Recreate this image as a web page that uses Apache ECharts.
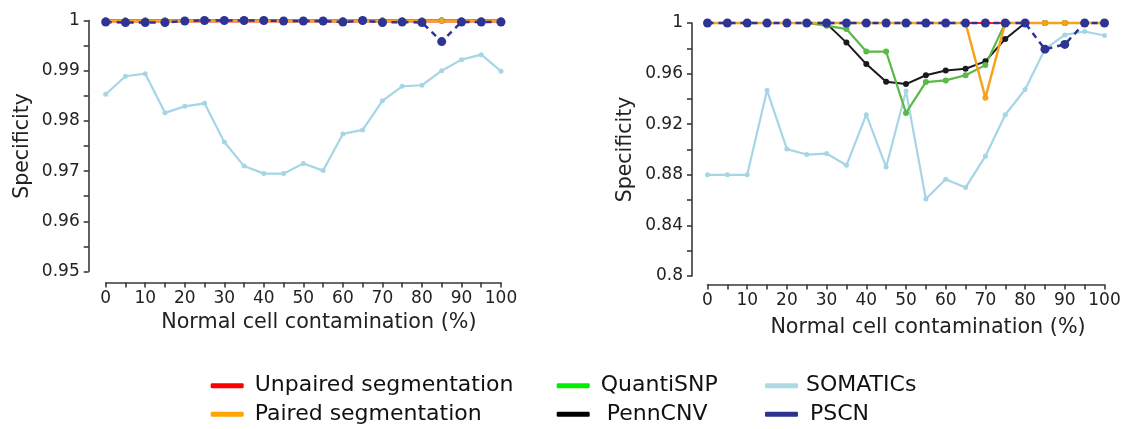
<!DOCTYPE html>
<html>
<head>
<meta charset="utf-8">
<script src="https://cdn.jsdelivr.net/npm/echarts@6/dist/echarts.min.js"></script>
<style>html,body{margin:0;padding:0;background:#fff}#c{width:1128px;height:429px}</style>
</head>
<body>
<div id="c"></div>
<script>
// x categories: normal cell contamination (%)
const contamination = [0,5,10,15,20,25,30,35,40,45,50,55,60,65,70,75,80,85,90,95,100];

// Left panel
const leftUnpaired = [0.9998,0.9998,0.9998,0.9998,0.9998,0.9998,0.9998,0.9998,0.9998,0.9998,0.9998,0.9998,0.9998,0.9998,0.9998,0.9998,0.9998,0.9998,0.9998,0.9998,0.9998];
const leftPaired   = [0.9999,0.9999,0.9999,0.9999,0.9999,0.9999,0.9999,0.9999,0.9999,0.9999,0.9999,0.9999,0.9999,0.9999,0.9999,0.9999,0.9999,0.9999,0.9999,0.9999,0.9999];
const leftQuanti   = [1,1,1,1,1,1,1,1,1,1,1,1,1,1,1,1,1,1,1,1,1];
const leftPenn     = [1,1,1,1,1,1,1,1,1,1,1,1,1,1,1,1,1,1,1,1,1];
const leftSomatics = [0.9853,0.9889,0.9894,0.9816,0.9829,0.9835,0.9758,0.9710,0.9695,0.9695,0.9715,0.9701,0.9774,0.9782,0.9840,0.9869,0.9871,0.9900,0.9922,0.9932,0.9899];
const leftPSCN     = [0.9997,0.9996,0.9996,0.9996,0.9999,1.0,1.0,1.0,1.0,0.9999,0.9999,0.9999,0.9997,1.0,0.9996,0.9997,0.9996,0.9958,0.9997,0.9997,0.9997];

// Right panel
const rightUnpaired = [1,1,1,1,1,1,1,1,1,1,1,1,1,1,1,1,1,1,1,1,1];
const rightPaired   = [1,1,1,1,1,1,1,1,1,1,1,1,1,1,0.9409,1,1,1,1,1,1];
const rightQuanti   = [1,1,1,1,1,1,0.9979,0.9952,0.9774,0.9774,0.9289,0.9533,0.9546,0.9587,0.9667,1,1,1,1,1,1];
const rightPenn     = [1,1,1,1,1,1,0.9995,0.9845,0.9675,0.9536,0.9517,0.9587,0.9624,0.9638,0.9697,0.9874,1,1,1,1,1];
const rightSomatics = [0.880,0.880,0.880,0.9468,0.9003,0.8960,0.8968,0.8875,0.9275,0.8861,0.9463,0.8608,0.8765,0.8699,0.8947,0.9275,0.9474,0.9793,0.9906,0.9933,0.9901];
const rightPSCN     = [1,1,1,1,1,1,1,1,1,1,1,1,1,1,1,1,1,0.9793,0.9831,1,1];

// tick labels
const xTickLabels = ['0','10','20','30','40','50','60','70','80','90','100'];
const leftYTickLabels = ['0.95','0.96','0.97','0.98','0.99','1'];
const rightYTickLabels = ['0.8','0.84','0.88','0.92','0.96','1'];

const FONT = 'DejaVu Sans';
const styles = {
  'Unpaired segmentation': {color:'#ff1a1a', lw:2, sym:5, legend:'#ff0000'},
  'Paired segmentation':   {color:'#f7a21d', lw:2.5, sym:6, legend:'#ffa500'},
  'QuantiSNP':             {color:'#5ab947', lw:2.2, sym:6, legend:'#00ee00'},
  'PennCNV':               {color:'#1a1a1a', lw:2, sym:6, legend:'#000000'},
  'SOMATICs':              {color:'#a6d6e6', lw:2.2, sym:5, legend:'#add8e6'},
  'PSCN':                  {color:'#2d3494', lw:2.5, sym:9, legend:'#2e3192', dash:[6,5]}
};

function pairs(ys){ return contamination.map((x,i)=>[x, ys[i]]); }

function mk(name, data, idx){
  const s = styles[name];
  return {
    name, type:'line', xAxisIndex:idx, yAxisIndex:idx, data:pairs(data),
    symbol:'circle', symbolSize:s.sym, showSymbol:true, clip:false,
    itemStyle:{color:s.color},
    lineStyle:{color:s.color, width:s.lw, type: s.dash || 'solid'},
    emphasis:{disabled:true}, animation:false,
    z: name==='PSCN' ? 5 : (name==='SOMATICs' ? 1 : 2)
  };
}

const order = ['SOMATICs','Unpaired segmentation','PennCNV','QuantiSNP','Paired segmentation','PSCN'];
const leftMap = {'Unpaired segmentation':leftUnpaired,'Paired segmentation':leftPaired,'QuantiSNP':leftQuanti,'PennCNV':leftPenn,'SOMATICs':leftSomatics,'PSCN':leftPSCN};
const rightMap = {'Unpaired segmentation':rightUnpaired,'Paired segmentation':rightPaired,'QuantiSNP':rightQuanti,'PennCNV':rightPenn,'SOMATICs':rightSomatics,'PSCN':rightPSCN};

const series = [];
order.forEach(n=>series.push(mk(n, leftMap[n], 0)));
order.forEach(n=>series.push(mk(n, rightMap[n], 1)));

const axisLine = {show:true, onZero:false, lineStyle:{color:'#3a3a3a', width:1.6}};
const axisTick = {show:true, length:5, inside:false, lineStyle:{color:'#3a3a3a', width:1.6}};
const labelStyle = {fontFamily:FONT, fontSize:17, color:'#222'};

function xAx(idx, offset, gap, shift){
  return {
    type:'value', gridIndex:idx, min:0, max:100, interval:5, offset,
    axisLine, axisTick, splitLine:{show:false},
    axisLabel:Object.assign({margin:8, formatter:v=>{const s=String(Math.round(v)); return xTickLabels.includes(s)?s:'';}}, labelStyle),
    name:'Normal cell contamination (%)', nameLocation:'middle', nameGap:gap,
    nameTextStyle:{fontFamily:FONT, fontSize:20.7, color:'#222', padding:[0,0,0,shift]}
  };
}
function yAx(idx, min, interval, labels, offset){
  return {
    type:'value', gridIndex:idx, min, max:1, interval, offset,
    axisLine, axisTick, splitLine:{show:false},
    axisLabel:Object.assign({margin:9, formatter:v=>{
      const s = String(parseFloat(v.toFixed(3)));
      return labels.includes(s)?s:'';
    }}, labelStyle),
    name:'Specificity', nameLocation:'middle', nameGap:56,
    nameTextStyle:{fontFamily:FONT, fontSize:20.5, color:'#222'}
  };
}

function legendItem(n, left, top, gapPad){
  return {
    orient:'horizontal', left, top, itemWidth:33, itemHeight:5, padding:0,
    icon:'roundRect', selectedMode:false,
    textStyle:{fontFamily:FONT, fontSize:22, color:'#111', lineHeight:22, padding:[0,0,0,gapPad]},
    data:[{name:n, icon:'roundRect', itemStyle:{color:styles[n].legend, borderWidth:0}, lineStyle:{color:styles[n].legend}}]
  };
}

const option = {
  animation:false,
  backgroundColor:'#fff',
  grid:[
    {left:105.7, top:20.5, width:395.3, height:251},
    {left:707.5, top:23, width:397, height:253}
  ],
  xAxis:[xAx(0, 11, 28.5, 31), xAx(1, 8.5, 32.5, 44)],
  yAxis:[yAx(0, 0.95, 0.005, leftYTickLabels, 17), yAx(1, 0.8, 0.02, rightYTickLabels, 15.5)],
  legend:[
    legendItem('Unpaired segmentation', 210.7, 374.7, 6),
    legendItem('Paired segmentation', 210.7, 403.3, 6),
    legendItem('QuantiSNP', 556.7, 374.7, 6),
    legendItem('PennCNV', 556.7, 403.3, 12),
    legendItem('SOMATICs', 765, 374.7, 3),
    legendItem('PSCN', 765, 403.3, 7)
  ],
  series
};

const chart = echarts.init(document.getElementById('c'), null, {renderer:'canvas'});
chart.setOption(option);
</script>
</body>
</html>
